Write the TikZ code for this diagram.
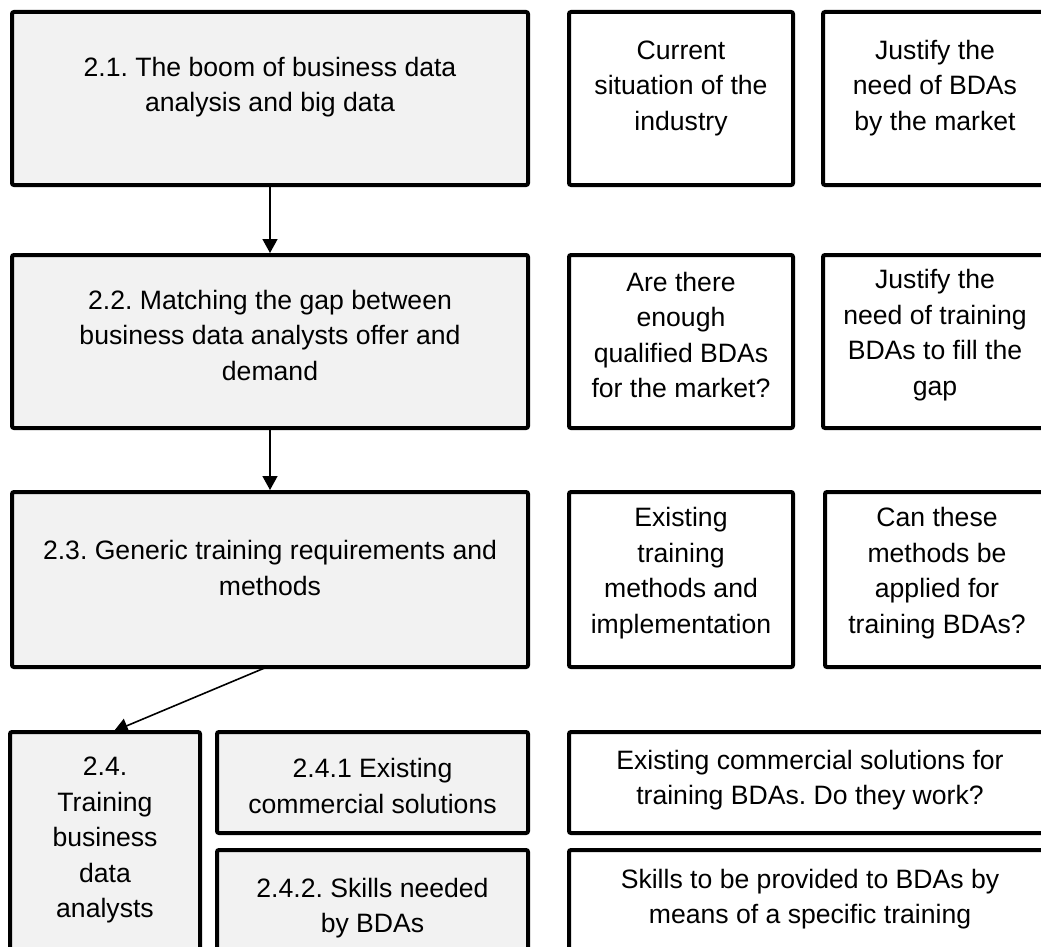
\documentclass[tikz,border=0pt]{standalone}
\usepackage{fontspec}
\setmainfont{Liberation Sans}
\usetikzlibrary{arrows.meta}
\definecolor{boxgray}{HTML}{F2F2F2}
\frenchspacing
\begin{document}
\begin{tikzpicture}[x=1pt,y=-1pt,
  box/.style={draw=black, line width=4pt, rounded corners=2pt, inner sep=0pt, outer sep=0pt, anchor=north west},
  gbox/.style={box, fill=boxgray},
  wbox/.style={box, fill=white},
  txt/.style={align=center, inner sep=0pt, font=\fontsize{26.6}{35.5}\selectfont},
  arr/.style={line width=1.6pt, shorten >=2pt, -{Triangle[length=14pt,width=15pt]}}]
\fill[white] (0,0) rectangle (1041,947);
\useasboundingbox (0,0) rectangle (1041,947);
\clip (0,0) rectangle (1041,947);
% row 1
\node[gbox, minimum width=516, minimum height=173] (b21) at (12,12) {};
\node[wbox, minimum width=224, minimum height=173] (c1) at (569,12) {};
\node[wbox, minimum width=224, minimum height=173] (j1) at (823,12) {};
\node[txt] (t21) at ([yshift=11.5pt]b21.center) {2.1. The boom of business data\\analysis and big data};
\node[txt] (tc1) at ([yshift=10.5pt]c1.center) {Current\\situation of the\\industry};
\node[txt] (tj1) at ([yshift=10.5pt]j1.center) {Justify the\\need of BDAs\\by the market};
% row 2
\node[gbox, minimum width=516, minimum height=173] (b22) at (12,255) {};
\node[wbox, minimum width=224, minimum height=173] (c2) at (569,255) {};
\node[wbox, minimum width=224, minimum height=173] (j2) at (823,255) {};
\node[txt] (t22) at ([yshift=6.5pt]b22.center) {2.2. Matching the gap between\\business data analysts offer and\\demand};
\node[txt] (tc2) at ([yshift=6.5pt]c2.center) {Are there\\enough\\qualified BDAs\\for the market?};
\node[txt] (tj2) at ([yshift=6.5pt]j2.center) {Justify the\\need of training\\BDAs to fill the\\gap};
% row 3
\node[gbox, minimum width=516, minimum height=175] (b23) at (12,492) {};
\node[wbox, minimum width=224, minimum height=175] (c3) at (569,492) {};
\node[wbox, minimum width=224, minimum height=175] (j3) at (825,492) {};
\node[txt] (t23) at ([yshift=11.5pt]b23.center) {2.3. Generic training requirements and\\methods};
\node[txt] (tc3) at ([yshift=6.5pt]c3.center) {Existing\\training\\methods and\\implementation};
\node[txt] (tj3) at ([yshift=6.5pt]j3.center) {Can these\\methods be\\applied for\\training BDAs?};
% row 4
\node[gbox, minimum width=190, minimum height=219] (b24) at (10,732) {};
\node[gbox, minimum width=311, minimum height=101] (b241) at (217,732) {};
\node[gbox, minimum width=311, minimum height=101] (b242) at (217,850) {};
\node[wbox, minimum width=482, minimum height=101] (r241) at (569,732) {};
\node[wbox, minimum width=482, minimum height=101] (r242) at (569,850) {};
\node[txt] (t24) at ([yshift=1.5pt]b24.center) {2.4.\\Training\\business\\data\\analysts};
\node[txt] (t241) at ([yshift=-3.5pt]b241.center) {2.4.1 Existing\\commercial solutions};
\node[txt] (t242) at ([yshift=-7.5pt]b242.center) {2.4.2. Skills needed\\by BDAs};
\node[txt] (tr241) at ([yshift=2.5pt]r241.center) {Existing commercial solutions for\\training BDAs. Do they work?};
\node[txt] (tr242) at ([yshift=1.5pt]r242.center) {Skills to be provided to BDAs by\\means of a specific training};
% arrows
\draw[arr] (b21.south) -- (b22.north);
\draw[arr] (b22.south) -- (b23.north);
\draw[arr] ([xshift=-3pt]b23.south) -- ([xshift=7pt]b24.north);
\end{tikzpicture}
\end{document}
